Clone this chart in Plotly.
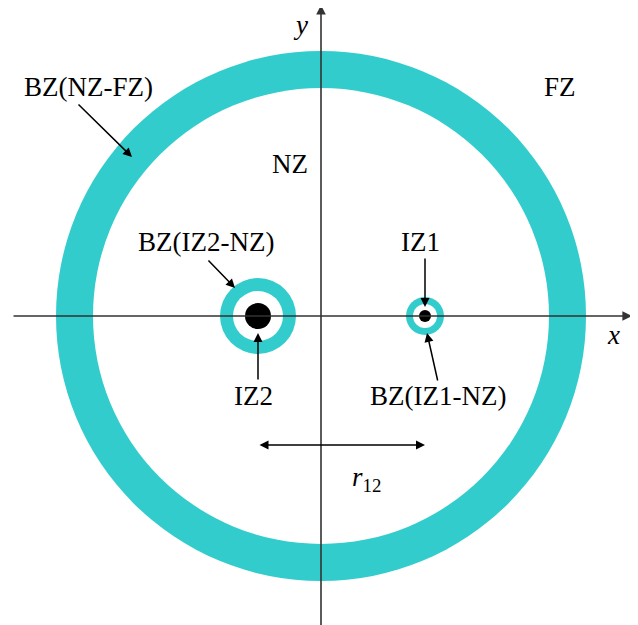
import plotly.graph_objects as go

# ---- data (chart units; origin at the axes crossing) ----
zones = ["IZ2", "IZ1"]
zone_cx = [-63, 104]            # centres of the inner zones on the x axis
zone_bz_outer = [38, 19]        # outer radius of boundary zone BZ(IZ-NZ)
zone_bz_inner = [25, 12]        # inner radius of boundary zone
zone_core = [13, 6]             # radius of inner zone (black dot)
nz_fz_outer = 265               # outer radius of BZ(NZ-FZ)
nz_fz_inner = 228               # inner radius of BZ(NZ-FZ)
axis_extent_x = [-309, 311]
axis_extent_y = [-312, 311]

CYAN = "#33CCCC"
FONT = "Liberation Serif"
FS = 27

fig = go.Figure()
shapes = []

def circle(cx, cy, r, fill):
    return dict(type="circle", xref="x", yref="y",
                x0=cx - r, x1=cx + r, y0=cy - r, y1=cy + r,
                fillcolor=fill, line=dict(width=0), layer="below")

shapes.append(circle(0, 0, nz_fz_outer, CYAN))
shapes.append(circle(0, 0, nz_fz_inner, "white"))
for cx, ro, ri, rc in zip(zone_cx, zone_bz_outer, zone_bz_inner, zone_core):
    shapes.append(circle(cx, 0, ro, CYAN))
    shapes.append(circle(cx, 0, ri, "white"))
    shapes.append(circle(cx, 0, rc, "black"))

ann = []

def arrow(x0, y0, x1, y1, both=False, color="black", width=1.5, size=1.2):
    d = dict(x=x1, y=y1, ax=x0, ay=y0, xref="x", yref="y", axref="x", ayref="y",
             text="", showarrow=True, arrowhead=2, arrowsize=size,
             arrowwidth=width, arrowcolor=color, standoff=0, startstandoff=0)
    if both:
        d.update(arrowside="end+start", startarrowhead=2, startarrowsize=size)
    return d

def label(x, y, text):
    return dict(x=x, y=y, xref="x", yref="y", text=text, showarrow=False,
                font=dict(family=FONT, size=FS, color="black"),
                xanchor="center", yanchor="middle")

# axes with arrow tips
ann.append(arrow(axis_extent_x[0], 0, axis_extent_x[1], 0, color="#333333", width=1.6, size=1.2))
ann.append(arrow(0, axis_extent_y[0], 0, axis_extent_y[1], color="#333333", width=1.6, size=1.2))
ann.append(label(-21, 291, "<i>y</i>"))
ann.append(label(292, -19, "<i>x</i>"))

# zone labels
ann.append(label(-233, 229, "BZ(NZ-FZ)"))
ann.append(label(239, 229, "FZ"))
ann.append(label(-31, 152, "NZ"))
ann.append(label(-115, 74, "BZ(IZ2-NZ)"))
ann.append(label(zone_cx[1] - 5, 74, "IZ1"))
ann.append(label(zone_cx[0] - 5, -80, "IZ2"))
ann.append(label(117, -80, "BZ(IZ1-NZ)"))
ann.append(label(45, -163, "<i>r</i><sub>12</sub>"))

# pointer arrows
ann.append(arrow(-244, 213, -189, 159))
ann.append(arrow(-114, 57, -86, 28))
ann.append(arrow(zone_cx[0], -65, zone_cx[0], -zone_bz_inner[0] + 8))
ann.append(arrow(zone_cx[1], 59, zone_cx[1], zone_bz_inner[1] - 3))
ann.append(arrow(117, -66, 106, -zone_bz_outer[1] + 2))
# distance between zone centres
ann.append(arrow(zone_cx[0], -129, zone_cx[1], -129, both=True))

# page body adds an 8px offset; shift ranges so the drawing lands where the reference has it
fig.update_layout(
    width=638, height=625,
    margin=dict(l=0, r=0, t=0, b=0),
    font=dict(family=FONT, size=FS, color="black"),
    paper_bgcolor="white", plot_bgcolor="white",
    xaxis=dict(range=[-313, 325], visible=False, fixedrange=True),
    yaxis=dict(range=[-317, 308], visible=False, fixedrange=True),
    shapes=shapes, annotations=ann, showlegend=False,
)

fig.write_html("out.html")
